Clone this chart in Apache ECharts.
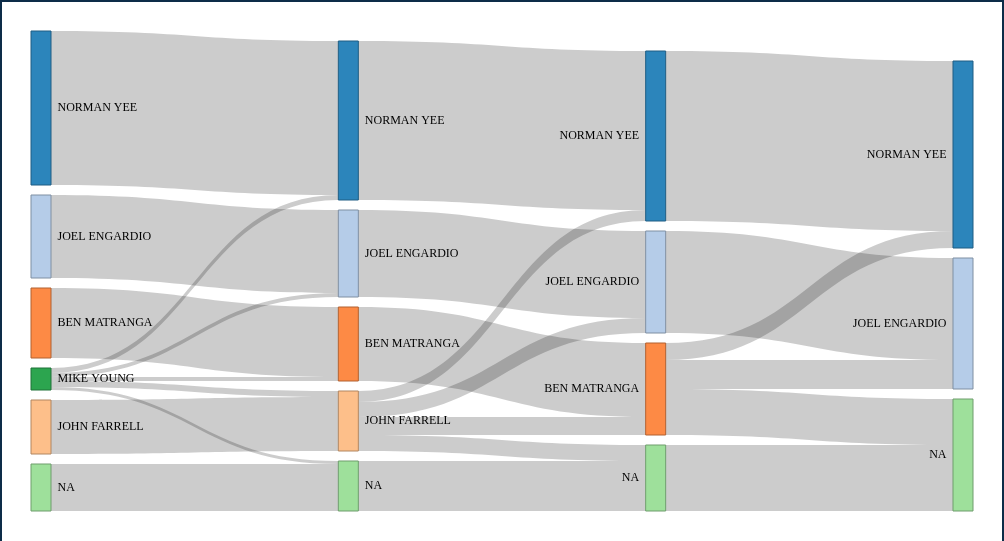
<!DOCTYPE html>
<html><head><meta charset="utf-8">
<script src="https://cdn.jsdelivr.net/npm/echarts@6/dist/echarts.min.js"></script>
<style>
html,body{margin:0;padding:0;background:#fff;overflow:hidden}
#chart{position:absolute;left:0;top:0;width:1004px;height:541px}
#frame{position:absolute;left:0;top:0;width:1004px;height:560px;box-sizing:border-box;border:2px solid #0d2c48;pointer-events:none}
</style></head>
<body><div id="chart"></div><div id="frame"></div>
<script>
// ---- data ----
const round1 = ['NORMAN YEE', 'JOEL ENGARDIO', 'BEN MATRANGA', 'MIKE YOUNG', 'JOHN FARRELL', 'NA'];
const round2 = ['NORMAN YEE', 'JOEL ENGARDIO', 'BEN MATRANGA', 'JOHN FARRELL', 'NA'];
const round3 = ['NORMAN YEE', 'JOEL ENGARDIO', 'BEN MATRANGA', 'NA'];
const round4 = ['NORMAN YEE', 'JOEL ENGARDIO', 'NA'];

// [from, to, ballots]
const flows1to2 = [
  ['NORMAN YEE', 'NORMAN YEE', 154],
  ['JOEL ENGARDIO', 'JOEL ENGARDIO', 83],
  ['BEN MATRANGA', 'BEN MATRANGA', 70],
  ['MIKE YOUNG', 'NORMAN YEE', 5],
  ['MIKE YOUNG', 'JOEL ENGARDIO', 4],
  ['MIKE YOUNG', 'BEN MATRANGA', 4],
  ['MIKE YOUNG', 'JOHN FARRELL', 6],
  ['MIKE YOUNG', 'NA', 3],
  ['JOHN FARRELL', 'JOHN FARRELL', 54],
  ['NA', 'NA', 47]
];
const flows2to3 = [
  ['NORMAN YEE', 'NORMAN YEE', 159],
  ['JOEL ENGARDIO', 'JOEL ENGARDIO', 87],
  ['BEN MATRANGA', 'BEN MATRANGA', 74],
  ['JOHN FARRELL', 'NORMAN YEE', 11],
  ['JOHN FARRELL', 'JOEL ENGARDIO', 15],
  ['JOHN FARRELL', 'BEN MATRANGA', 18],
  ['JOHN FARRELL', 'NA', 16],
  ['NA', 'NA', 50]
];
const flows3to4 = [
  ['NORMAN YEE', 'NORMAN YEE', 170],
  ['JOEL ENGARDIO', 'JOEL ENGARDIO', 102],
  ['BEN MATRANGA', 'NORMAN YEE', 17],
  ['BEN MATRANGA', 'JOEL ENGARDIO', 29],
  ['BEN MATRANGA', 'NA', 46],
  ['NA', 'NA', 66]
];

// ---- style ----
const fillColors = {
  'NORMAN YEE': '#2c85bb', 'JOEL ENGARDIO': '#b5cce8', 'BEN MATRANGA': '#fd8a45',
  'MIKE YOUNG': '#2ca54f', 'JOHN FARRELL': '#fdbf8a', 'NA': '#9ee09b'
};
const strokeColors = {
  'NORMAN YEE': '#1f5d83', 'JOEL ENGARDIO': '#7f8fa2', 'BEN MATRANGA': '#b16130',
  'MIKE YOUNG': '#1f7338', 'JOHN FARRELL': '#b18661', 'NA': '#6e9d6d'
};

const rounds = [round1, round2, round3, round4];
const flows = [flows1to2, flows2to3, flows3to4];

const LAYOUT_H = 480, GAP = 10;

// node values per round (max of in / out), as ECharts does
const values = rounds.map(r => r.map(() => 0));
flows.forEach((fl, k) => {
  const outV = rounds[k].map(() => 0), inV = rounds[k + 1].map(() => 0);
  fl.forEach(([a, b, v]) => { outV[rounds[k].indexOf(a)] += v; inV[rounds[k + 1].indexOf(b)] += v; });
  outV.forEach((v, i) => values[k][i] = Math.max(values[k][i], v));
  inV.forEach((v, i) => values[k + 1][i] = Math.max(values[k + 1][i], v));
});
const ky = Math.min(...rounds.map((r, k) => (LAYOUT_H - (r.length - 1) * GAP) / values[k].reduce((s, v) => s + v, 0)));

const nodes = [];
rounds.forEach((r, k) => {
  const total = values[k].reduce((s, v) => s + v, 0);
  let y = LAYOUT_H - (total * ky + (r.length - 1) * GAP); // columns sit on the bottom
  r.forEach((name, i) => {
    nodes.push({
      name: name + '#' + (k + 1),
      localY: y / LAYOUT_H,
      itemStyle: { color: fillColors[name], borderColor: strokeColors[name], borderWidth: 1 },
      label: k >= 2 ? { position: 'left', distance: 6 } : { position: 'right', distance: 6 }
    });
    y += values[k][i] * ky + GAP;
  });
});
const links = [];
flows.forEach((fl, k) => fl.forEach(([a, b, v]) => links.push({
  source: a + '#' + (k + 1), target: b + '#' + (k + 2), value: v
})));

const chart = echarts.init(document.getElementById('chart'), null, { renderer: 'canvas' });
chart.setOption({
  backgroundColor: '#fff',
  animation: false,
  tooltip: { show: false },
  series: [{
    type: 'sankey',
    left: 31, top: 31, right: 31, bottom: 30,
    nodeWidth: 20, nodeGap: GAP,
    layoutIterations: 0,
    draggable: false,
    nodeAlign: 'justify',
    emphasis: { disabled: true },
    lineStyle: { color: '#000', opacity: 0.2, curveness: 0.5 },
    label: {
      color: '#000', fontFamily: 'Liberation Serif', fontSize: 12,
      padding: [3, 0, 0, 0],
      formatter: p => p.name.split('#')[0]
    },
    data: nodes,
    links: links
  }]
});
</script>
</body></html>
